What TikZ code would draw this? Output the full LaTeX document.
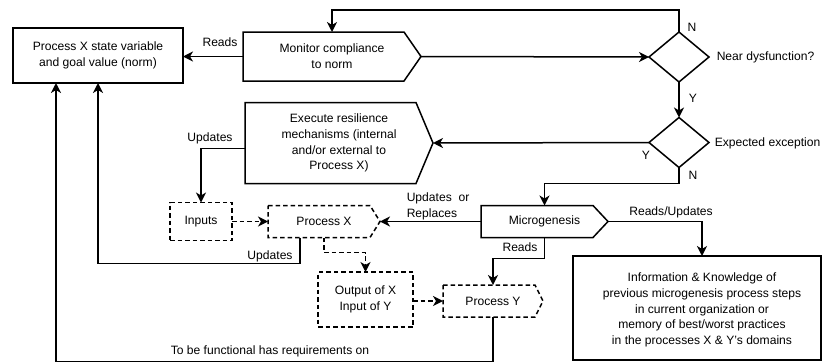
\documentclass[tikz,border=0pt]{standalone}
\usepackage{fontspec}
\setmainfont{Liberation Sans}
\usetikzlibrary{arrows.meta,shapes.geometric,calc}
\newcommand{\pentdraw}[3]{\draw[#3] (#1.north west) -- ([xshift=-#2]#1.north east) -- (#1.east) -- ([xshift=-#2]#1.south east) -- (#1.south west) -- cycle;}
\begin{document}
\begin{tikzpicture}[x=1pt,y=-1pt, line width=1.5pt,
  font=\fontsize{12.1pt}{15.8pt}\selectfont,
  arr/.style={-{Stealth[length=10pt,width=10pt,inset=3pt]}},
  dsh/.style={dash pattern=on 4.5pt off 3pt},
  box/.style={draw, rectangle, inner sep=0pt, outer sep=0pt, align=center},
  dbox/.style={box, dsh},
  pent/.style={rectangle, draw=none, inner sep=0pt, outer sep=0pt, align=center},
  dia/.style={diamond, draw, inner sep=0pt, outer sep=0pt, minimum width=60pt, minimum height=50pt},
  lbl/.style={inner sep=0pt}]
\clip (0,0) rectangle (822,362);

% shapes
\node[box, minimum width=170pt, minimum height=55pt] (state) at (98,55.5) {Process X state variable\\and goal value (norm)};
\node[pent, minimum width=178pt, minimum height=49pt] (mon) at (332,56.5) {Monitor compliance\\to norm};
\pentdraw{mon}{17pt}{}
\node[pent, minimum width=188pt, minimum height=81pt] (exe) at (339,143) {Execute resilience\\mechanisms (internal\\and/or external to\\Process X)};
\pentdraw{exe}{17pt}{}
\node[dbox, minimum width=62pt, minimum height=38pt] (inp) at (201,221.5) {Inputs};
\node[pent, minimum width=112pt, minimum height=32pt] (px) at (324,221.5) {Process X};
\pentdraw{px}{10pt}{dsh}
\node[dbox, minimum width=95pt, minimum height=55pt] (out) at (365.5,299.5) {Output of X\\Input of Y};
\node[pent, minimum width=100pt, minimum height=32pt] (py) at (493,301) {Process Y};
\pentdraw{py}{8pt}{dsh}
\node[pent, minimum width=127pt, minimum height=32pt] (mg) at (544.5,221.5) {Microgenesis};
\pentdraw{mg}{15pt}{}
\node[box, minimum width=248pt, minimum height=104pt] (info) at (697,308) {};
\node[align=center, inner sep=0pt] (infotxt) at (702,310) {Information \& Knowledge of\\previous microgenesis process steps\\in current organization or\\memory of best/worst practices\\in the processes X \& Y's domains};
\node[dia] (d1) at (679,57) {};
\node[dia] (d2) at (679,142.5) {};

% connectors
\draw[arr] (mon.west) -- (mon.west -| state.east);
\draw[arr] (d1.north) -- ++(0,-22) -| (mon.north);
\draw[arr] (mon.east) -- (d1.west);
\draw[arr] (d1.south) -- (d2.north);
\draw[arr] (d2.west) -- (exe.east);
\draw[arr] (d2.south) -- ++(0,16) -| (mg.north);
\draw[arr] (mg.west) -- (px.east);
\draw[arr] ([yshift=-5.5pt]exe.west) -| (inp.north);
\draw[arr,dsh] (inp.east) -- (px.west);
\draw[arr,dsh] (px.south) -- ++(0,15) -| (out.north);
\draw[arr] ([xshift=-24pt]px.south) -- ++(0,26) -| (state.south);
\draw[arr,dsh] (out.east |- py.west) -- (py.west);
\draw[arr] (mg.south) -- ++(0,21) -| (py.north);
\draw[arr] (mg.east) -| ([xshift=5pt]info.north);
\draw[arr] (py.south) -- ++(0,44.3) -| ([xshift=-42pt]state.south);

% labels
\node[lbl] (l1) at (220,42) {Reads};
\node[lbl] (l2) at (692,27) {N};
\node[lbl, anchor=west] (l3) at (716,57) {Near dysfunction?};
\node[lbl] (l4) at (693,98) {Y};
\node[lbl, anchor=west] (l5) at (714,143) {Expected exception};
\node[lbl] (l6) at (646,155) {Y};
\node[lbl] (l7) at (693,175) {N};
\node[lbl] (l8) at (210,138) {Updates};
\node[lbl, anchor=west, align=left] (l9) at (406,206) {Updates~ or\\Replaces};
\node[lbl] (l10) at (671,212) {Reads/Updates};
\node[lbl] (l11) at (270,256) {Updates};
\node[lbl] (l12) at (520,247) {Reads};
\node[lbl] (l13) at (270,351) {To be functional has requirements on};
\end{tikzpicture}
\end{document}
